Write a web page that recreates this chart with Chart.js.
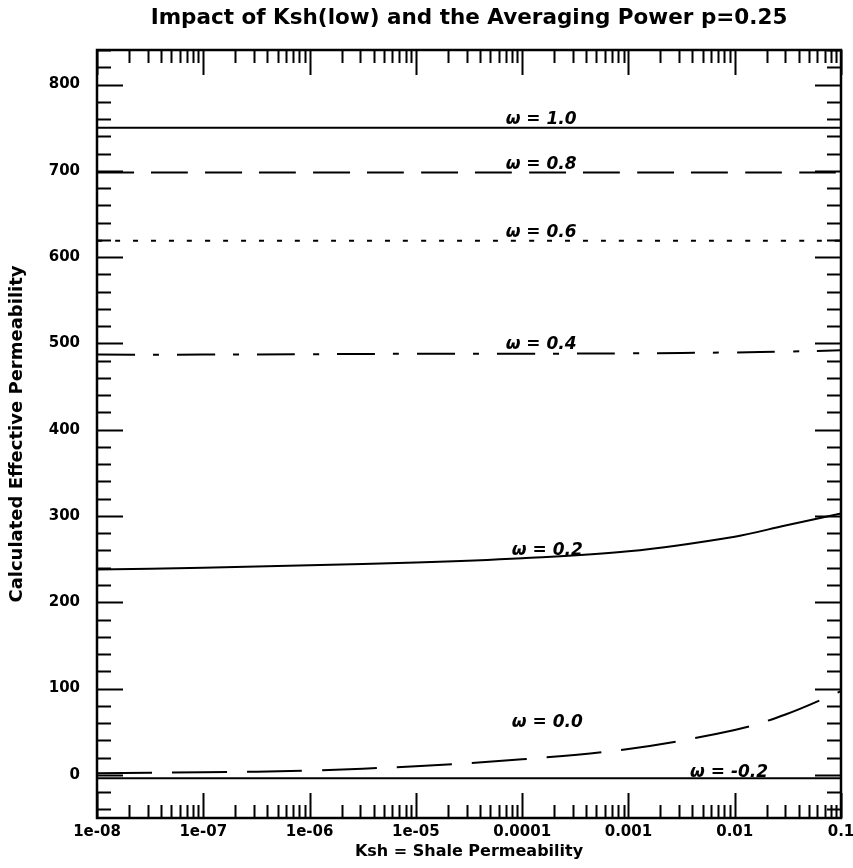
<!DOCTYPE html>
<html>
<head>
<meta charset="utf-8">
<script src="https://cdn.jsdelivr.net/npm/chart.js@4.4.1/dist/chart.umd.min.js"></script>
<style>
    html, body { margin: 0; padding: 0; background: #fff; }
    #wrap { width: 853px; height: 868px; position: relative; }
</style>
</head>
<body>
<div id="wrap"><canvas id="chart"></canvas></div>
<script>
// Shale permeability (x, log axis)
const kshValues = [1e-8, 1e-7, 1e-6, 1e-5, 1e-4, 1e-3, 1e-2, 3e-2, 1e-1];

// Calculated effective permeability for each omega
const keffW10  = [750, 750, 750, 750, 750, 750, 750, 750, 750];
const keffW08  = [698, 698, 698, 698, 698, 698, 698, 698, 698];
const keffW06  = [619, 619, 619, 619, 619, 619, 619, 619, 619];
const keffW04  = [487, 487, 487.5, 488, 488, 488.5, 489.5, 490.5, 492];
const keffW02  = [238, 240, 243, 246, 251, 259, 276, 289, 303];
const keffW00  = [2, 3, 5, 10, 18, 30, 52, 70, 97];
const keffWm02 = [-4, -4, -4, -4, -4, -4, -4, -4, -4];

// Curve annotations (hand-written on the original)
const curveLabels = ['ω = 1.0', 'ω = 0.8', 'ω = 0.6', 'ω = 0.4', 'ω = 0.2', 'ω = 0.0', 'ω = -0.2'];
const curveLabelX = [7e-5, 7e-5, 7e-5, 7e-5, 8e-5, 8e-5, 3.8e-3];
const curveLabelY = [754, 702, 623, 493, 255, 55, -2];

// Axis tick labels
const xTickLabels = ['1e-08', '1e-07', '1e-06', '1e-05', '0.0001', '0.001', '0.01', '0.1'];
const yTickLabels = ['0', '100', '200', '300', '400', '500', '600', '700', '800'];

const FONT = '"DejaVu Sans", sans-serif';

function isDecade(v) {
    const l = Math.log10(v);
    return Math.abs(l - Math.round(l)) < 1e-6;
}

function series(values) {
    return kshValues.map((x, i) => ({ x, y: values[i] }));
}

function lineSet(label, values, dash) {
    return {
        label,
        data: series(values),
        borderColor: '#000',
        borderWidth: 2,
        borderDash: dash,
        pointRadius: 0,
        tension: 0.35,
        fill: false,
    };
}

// Frame, inward tick marks on all four sides, and curve labels
const plotDecor = {
    id: 'plotDecor',
    afterDraw(chart) {
        const { ctx, chartArea: a, scales: { x, y } } = chart;
        ctx.save();
        ctx.strokeStyle = '#000';
        ctx.lineWidth = 2;
        ctx.beginPath();
        y.ticks.forEach(t => {
            const py = Math.round(y.getPixelForValue(t.value)) + 0.5;
            const len = t.value % 100 === 0 ? 26 : 14;
            ctx.moveTo(a.left, py); ctx.lineTo(a.left + len, py);
            ctx.moveTo(a.right, py); ctx.lineTo(a.right - len, py);
        });
        x.ticks.forEach(t => {
            const px = Math.round(x.getPixelForValue(t.value)) + 0.5;
            const len = isDecade(t.value) ? 25 : 13;
            ctx.moveTo(px, a.bottom); ctx.lineTo(px, a.bottom - len);
            ctx.moveTo(px, a.top); ctx.lineTo(px, a.top + len);
        });
        ctx.stroke();
        ctx.lineWidth = 2.5;
        ctx.strokeRect(a.left, a.top, a.right - a.left, a.bottom - a.top);

        ctx.fillStyle = '#000';
        ctx.font = 'italic bold 17px ' + FONT;
        ctx.textAlign = 'left';
        ctx.textBaseline = 'alphabetic';
        curveLabels.forEach((txt, i) => {
            ctx.fillText(txt, x.getPixelForValue(curveLabelX[i]), y.getPixelForValue(curveLabelY[i]));
        });
        ctx.restore();
    }
};

new Chart(document.getElementById('chart'), {
    type: 'line',
    data: {
        datasets: [
            lineSet('ω=1.0', keffW10, []),
            lineSet('ω=0.8', keffW08, [37, 17]),
            lineSet('ω=0.6', keffW06, [5, 13]),
            lineSet('ω=0.4', keffW04, [38, 18, 6, 18]),
            lineSet('ω=0.2', keffW02, []),
            lineSet('ω=0.0', keffW00, [55, 20]),
            lineSet('ω=-0.2', keffWm02, []),
        ],
    },
    options: {
        responsive: true,
        maintainAspectRatio: false,
        animation: false,
        layout: { padding: { left: 0, right: 12, top: 0, bottom: 0 } },
        plugins: {
            legend: { display: false },
            tooltip: { enabled: false },
            title: {
                display: true,
                fullSize: false,
                text: 'Impact of Ksh(low) and the Averaging Power p=0.25',
                color: '#000',
                font: { family: FONT, size: 21.5, weight: 'bold', lineHeight: 1.2 },
                padding: { top: 6, bottom: 18.2 },
            },
        },
        scales: {
            x: {
                type: 'logarithmic',
                min: 1e-8,
                max: 0.1,
                afterBuildTicks(scale) {
                    const ticks = [];
                    for (let e = -8; e <= -1; e++) {
                        for (let k = 1; k <= 9; k++) {
                            const v = k * Math.pow(10, e);
                            if (v <= 0.1 * 1.0001) ticks.push({ value: v });
                        }
                    }
                    scale.ticks = ticks;
                },
                afterFit(scale) {
                    scale.height = 50;
                    scale.paddingLeft = 0;
                    scale.paddingRight = 0;
                },
                grid: { display: false, drawTicks: false },
                border: { display: false },
                ticks: {
                    autoSkip: false,
                    maxRotation: 0,
                    padding: 5,
                    color: '#000',
                    font: { family: FONT, size: 15, weight: 'bold' },
                    callback: (v) => isDecade(v) ? xTickLabels[Math.round(Math.log10(v)) + 8] : '',
                },
                title: {
                    display: true,
                    text: 'Ksh = Shale Permeability',
                    color: '#000',
                    font: { family: FONT, size: 16, weight: 'bold', lineHeight: 1.2 },
                    padding: { top: 0, bottom: 7 },
                },
            },
            y: {
                type: 'linear',
                min: -50,
                max: 840,
                afterBuildTicks(scale) {
                    const ticks = [];
                    for (let v = -40; v <= 840; v += 20) ticks.push({ value: v });
                    scale.ticks = ticks;
                },
                afterFit(scale) { scale.width = 97; },
                grid: { display: false, drawTicks: false },
                border: { display: false },
                ticks: {
                    autoSkip: false,
                    padding: 17,
                    color: '#000',
                    font: { family: FONT, size: 15, weight: 'bold' },
                    callback: (v) => (v >= 0 && v % 100 === 0) ? yTickLabels[v / 100] : '',
                },
                title: {
                    display: true,
                    text: 'Calculated Effective Permeability',
                    color: '#000',
                    font: { family: FONT, size: 18, weight: 'bold', lineHeight: 1.2 },
                    padding: { top: 7, bottom: 0 },
                },
            },
        },
    },
    plugins: [plotDecor],
});
</script>
</body>
</html>
